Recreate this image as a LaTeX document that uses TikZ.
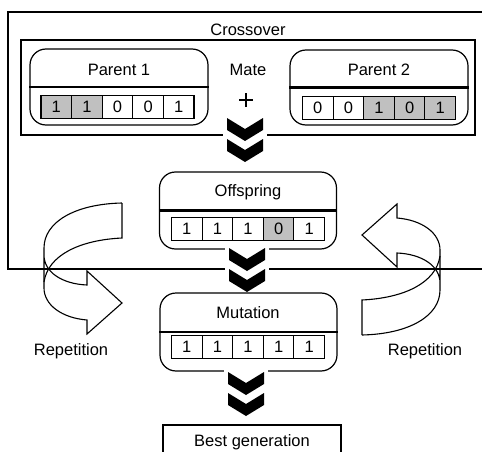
\documentclass[tikz,border=0pt]{standalone}
\usepackage{fontspec}
\setmainfont{Liberation Sans}
\definecolor{cellgray}{RGB}{192,192,192}
\tikzset{
  txt/.style={font=\fontsize{16.5}{19}\selectfont, inner sep=0pt},
  genebox/.style={draw, line width=1.2pt, rounded corners=16pt, minimum width=177pt, minimum height=77pt, inner sep=0pt},
  bitcell/.style={draw, line width=1.1pt, minimum width=30.6pt, minimum height=23pt, inner sep=0pt, font=\fontsize{16.5}{19}\selectfont},
  divider/.style={line width=2.4pt},
  frameline/.style={line width=1.1pt},
  chevron/.style={fill=black},
  ribbon/.style={line width=1.1pt, line join=miter},
}
\newcommand\bitrow[4]{%
  \foreach \b/\f [count=\i] in {#4} {
    \node[bitcell, fill=\f] (#1\i) at ({#2+(\i-3)*30.6}, #3) {\b};
  }%
}
\newcommand\chevpair[1]{%
  \begin{scope}[shift={(#1)}]
    \fill[white] (-22,-3) rectangle (22,43);
    \foreach \dy in {0,21} {
      \fill[chevron] (-18,\dy) -- (0,\dy+11) -- (18,\dy) -- (18,\dy+12) -- (0,\dy+23) -- (-18,\dy+12) -- cycle;
    }
  \end{scope}%
}
\newcommand\ribbonarrow{%
  \draw[ribbon] (122,203) .. controls (75,204) and (44,222) .. (44,248) -- (44,288)
        .. controls (44,305) and (62,318) .. (87,320) -- (87,334) -- (122,303) -- (87,271) -- (87,285)
        .. controls (62,284) and (44,272) .. (44,255);
  \draw[ribbon] (122,203) -- (122,238) .. controls (80,240) and (48,255) .. (44,282);
}
\begin{document}
\begin{tikzpicture}[x=1pt, y=-1pt]
\useasboundingbox (0,0) rectangle (482,452);

% outer frame and crossover box
\draw[frameline] (482,12) -- (8,12) -- (8,269) -- (482,269);
\node[txt] (crosslbl) at (248,30) {Crossover};
\node[draw, frameline, minimum width=454pt, minimum height=95pt, inner sep=0pt] (crossbox) at (248,87.5) {};

% parent 1
\node[genebox, minimum width=178pt, minimum height=76pt] (p1) at (119,87) {};
\draw[divider] (p1.west) -- (p1.east);
\node[txt] (p1t) at (119,70) {Parent 1};
\bitrow{p1c}{117.5}{107}{1/cellgray,1/cellgray,0/white,0/white,1/white}

% parent 2
\node[genebox, minimum width=178pt, minimum height=75pt] (p2) at (379,87.5) {};
\draw[divider] (p2.west) -- (p2.east);
\node[txt] (p2t) at (379,70) {Parent 2};
\bitrow{p2c}{379}{108}{0/white,0/white,1/cellgray,0/cellgray,1/cellgray}

% mate
\node[txt] (mate) at (248,70) {Mate};
\coordinate (plus) at (246,100);
\draw[line width=2pt] ([xshift=-7pt]plus) -- ([xshift=7pt]plus);
\draw[line width=2pt] ([yshift=-7pt]plus) -- ([yshift=7pt]plus);

% offspring
\node[genebox] (off) at (248,210.5) {};
\draw[divider] (off.west) -- (off.east);
\node[txt] (offt) at (248,192) {Offspring};
\bitrow{offc}{248}{229}{1/white,1/white,1/white,0/cellgray,1/white}

% mutation
\node[genebox, minimum height=78pt] (mut) at (248.5,332) {};
\draw[divider] (mut.west) -- (mut.east);
\node[txt] (mutt) at (248,313) {Mutation};
\bitrow{mutc}{248}{347}{1/white,1/white,1/white,1/white,1/white}

% best generation
\node[txt] (best) at (252,442) {Best generation};
\draw[frameline] (163,460) -- (163,425) -- (341,425) -- (341,460);

% repetition arrows
\ribbonarrow
\begin{scope}[rotate around={180:(242,269)}]
\ribbonarrow
\end{scope}
\node[txt] (repl) at (71,351) {Repetition};
\node[txt] (repr) at (425,351) {Repetition};

% chevron connectors
\coordinate (ch1) at (245,118);
\coordinate (ch2) at (247,248);
\coordinate (ch3) at (246,372);
\chevpair{ch1}
\chevpair{ch2}
\chevpair{ch3}
\end{tikzpicture}
\end{document}
